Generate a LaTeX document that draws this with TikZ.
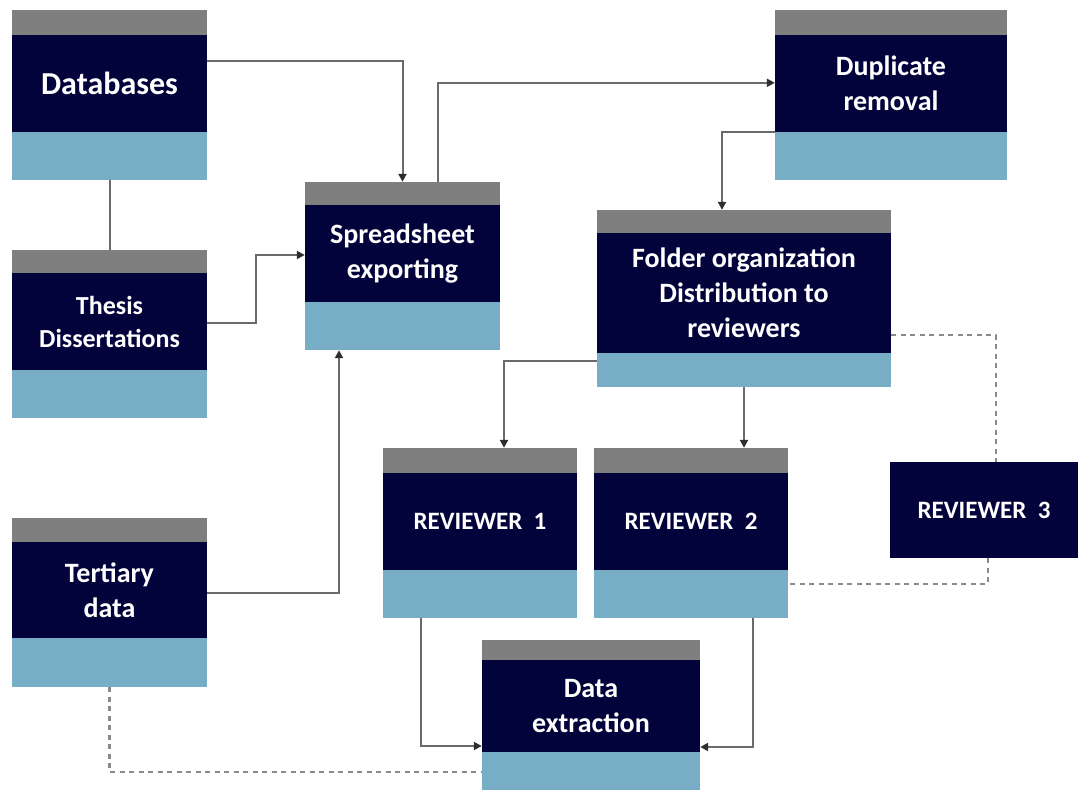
\documentclass[tikz,border=0pt]{standalone}
\usepackage{fontspec}
\setmainfont{Carlito}
\usetikzlibrary{arrows.meta,fit,calc}
\definecolor{barGray}{HTML}{7F7F7F}
\definecolor{boxNavy}{HTML}{03033B}
\definecolor{boxBlue}{HTML}{78AEC5}
\definecolor{lineGray}{HTML}{6A6A6A}
\definecolor{tipGray}{HTML}{2E2E2E}
\definecolor{dashGray}{HTML}{8A8A8A}
\tikzset{
  lbl/.style={text=white, align=center, inner sep=0pt},
  conn/.style={draw=lineGray, line width=2pt, -{Triangle[length=8pt,width=8pt,color=tipGray]}},
  plainconn/.style={draw=lineGray, line width=2pt},
  dashconn/.style={draw=dashGray, line width=2.5pt, dash pattern=on 5pt off 4.5pt},
  hull/.style={inner sep=0pt, draw=none}
}
% #1 name, #2 x1, #3 x2, #4 ytop, #5 gray/navy, #6 navy/blue, #7 bottom, #8 text, #9 font size
\newcommand\flowbox[9]{%
  \fill[barGray] (#2,#4) rectangle (#3,#5);
  \fill[boxNavy] (#2,#5) rectangle (#3,#6);
  \fill[boxBlue] (#2,#6) rectangle (#3,#7);
  \node[hull, fit={(#2,#4)(#3,#7)}] (#1) {};
  \node[lbl, font=\bfseries\fontsize{#9}{\numexpr#9*125/100\relax}\selectfont] (#1-t) at ($(#2,#5)!0.5!(#3,#6)$) {#8};
}
\begin{document}
\begin{tikzpicture}[x=1pt,y=-1pt]
\useasboundingbox (0,0) rectangle (1081,790);
\fill[white] (0,0) rectangle (1081,790);

\flowbox{db}{12}{207}{10}{35}{132}{180}{Databases}{32}
\flowbox{th}{12}{207}{250}{273}{370}{418}{Thesis\\Dissertations}{26}
\flowbox{ter}{12}{207}{518}{542}{638}{687}{Tertiary\\data}{28}
\flowbox{ss}{305}{500}{182}{205}{302}{350}{Spreadsheet\\exporting}{28}
\flowbox{dup}{775}{1007}{10}{35}{132}{180}{Duplicate\\removal}{28}
\flowbox{fo}{597}{891}{210}{233}{353}{387}{Folder organization\\Distribution to\\reviewers}{28}
\flowbox{ra}{383}{577}{448}{473}{570}{618}{REVIEWER\ \ 1}{25}
\flowbox{rb}{594}{788}{448}{473}{570}{618}{REVIEWER\ \ 2}{25}
\flowbox{de}{482}{700}{640}{660}{752}{790}{Data\\extraction}{28}

% Reviewer 3: navy only
\fill[boxNavy] (890,462) rectangle (1078,558);
\node[hull, fit={(890,462)(1078,558)}] (rc) {};
\node[lbl, font=\bfseries\fontsize{25}{30}\selectfont] (rc-t) at (rc.center) {REVIEWER\ \ 3};

% solid connectors
\draw[plainconn] (db.south) -- (th.north);
\draw[conn] ([yshift=-51pt]db.north east) -| (ss.north);
\draw[conn] ([xshift=35pt]ss.north) |- ([yshift=-73pt]dup.north west);
\draw[conn] ([yshift=11pt]th.east) -- ++(49,0) |- ([yshift=11pt]ss.west);
\draw[conn] ([yshift=9.5pt]ter.east) -| ([xshift=-63.5pt]ss.south);
\draw[conn] ([yshift=-122pt]dup.north west) -| ([xshift=-22pt]fo.north);
\draw[conn] ([yshift=-151pt]fo.north west) -| ([xshift=24pt]ra.north);
\draw[conn] (fo.south) -- (fo.south |- rb.north);
\draw[conn] ([xshift=-59pt]ra.south) |- ([yshift=-31pt]de.west);
\draw[conn] ([xshift=62pt]rb.south) |- ([yshift=-32pt]de.east);

% dashed connectors
\draw[dashconn] ([yshift=-36.5pt]fo.east) -| ([xshift=12pt]rc.north);
\draw[dashconn] ([xshift=4pt]rc.south) |- ([yshift=-51pt]rb.east);
\draw[dashconn] (ter.south) |- ([yshift=-57pt]de.west);
\end{tikzpicture}
\end{document}
